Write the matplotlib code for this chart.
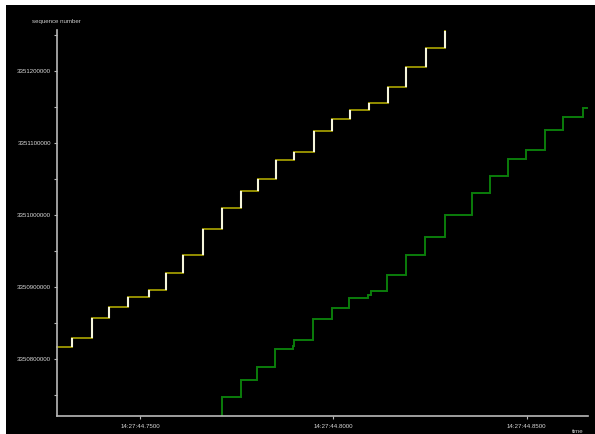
import matplotlib
matplotlib.use("Agg")
import matplotlib.pyplot as plt
from matplotlib.patches import Rectangle
from matplotlib.ticker import FixedLocator, FuncFormatter

# ---- data (time = seconds within 14:27:xx, seq = TCP sequence number) ----
yellow_rise_t = [44.73249, 44.73751, 44.74206, 44.74682, 44.75233, 44.75672,
                 44.76120, 44.76622, 44.77121, 44.77604, 44.78052, 44.78517,
                 44.78983, 44.79500, 44.79973, 44.80431, 44.80922, 44.81406,
                 44.81879, 44.82396, 44.82880]
yellow_levels = [3350816600, 3350829500, 3350857200, 3350872100, 3350886800,
                 3350896000, 3350920000, 3350945000, 3350980200, 3351009300,
                 3351033300, 3351050300, 3351076200, 3351087700, 3351116400,
                 3351132600, 3351145500, 3351155600, 3351177800, 3351204700,
                 3351231000, 3351255400]
yellow_start_t = 44.72861

green_rise_t = [44.77113, 44.77604, 44.78034, 44.78499, 44.78949, 44.78983,
                44.79466, 44.79965, 44.80413, 44.80904, 44.80982, 44.81396,
                44.81871, 44.82371, 44.82888, 44.83586, 44.84052, 44.84517,
                44.84975, 44.85482, 44.85940, 44.86465]
green_levels = [3350710000, 3350748200, 3350771700, 3350789300, 3350814700,
                3350818400, 3350826700, 3350856300, 3350870700, 3350884500,
                3350888700, 3350894200, 3350917300, 3350944100, 3350969900,
                3350999600, 3351030500, 3351054500, 3351078000, 3351090100,
                3351118200, 3351135800, 3351147900]
green_start_t = 44.77000
green_end_t = 44.86568

x_ticks = [44.75, 44.80, 44.85]
y_ticks = [3350800000, 3350900000, 3351000000, 3351100000, 3351200000]
y_minor = [3350750000, 3350850000, 3350950000, 3351050000, 3351150000, 3351250000]

x_label = "time"
y_label = "sequence number"


def step_xy(start_t, rise_t, levels, end_t=None):
    xs, ys = [start_t], [levels[0]]
    for t, lo, hi in zip(rise_t, levels[:-1], levels[1:]):
        xs += [t, t]
        ys += [lo, hi]
    if end_t is not None:
        xs.append(end_t)
        ys.append(levels[-1])
    return xs, ys


W, H = 595, 434
fig = plt.figure(figsize=(W / 100, H / 100), dpi=100, facecolor="white")
fig.patches.append(Rectangle((6 / W, 0), 1 - 6 / W, 1 - 5 / H,
                             transform=fig.transFigure, facecolor="black",
                             edgecolor="none", zorder=-10))

ax = fig.add_axes([57.3 / W, 1 - 416.3 / H, (587.5 - 57.3) / W, (416.3 - 29.6) / H])
ax.set_facecolor("none")
ax.set_xlim(44.72861, 44.86572)
ax.set_ylim(3350721000, 3351257000)

axis_col = "#b8b8b8"
for s in ["top", "right"]:
    ax.spines[s].set_visible(False)
for s in ["left", "bottom"]:
    ax.spines[s].set_color(axis_col)
    ax.spines[s].set_linewidth(1.2)

# green line
gx, gy = step_xy(green_start_t, green_rise_t, green_levels, green_end_t)
ax.plot(gx, gy, color="#0b7d0b", lw=1.4, solid_joinstyle="miter", clip_on=True)

# yellow line
yx, yy = step_xy(yellow_start_t, yellow_rise_t, yellow_levels)
ax.plot(yx, yy, color="#948e00", lw=1.4, solid_joinstyle="miter", clip_on=False)

# white segment bars along each rise
for t, lo, hi in zip(yellow_rise_t, yellow_levels[:-1], yellow_levels[1:]):
    ax.plot([t, t], [lo, hi], color="#f6f6dc", lw=1.5, clip_on=False,
            solid_capstyle="butt")

ax.xaxis.set_major_locator(FixedLocator(x_ticks))
ax.xaxis.set_major_formatter(FuncFormatter(lambda v, p: "14:27:%07.4f" % v))
ax.yaxis.set_major_locator(FixedLocator(y_ticks))
ax.yaxis.set_minor_locator(FixedLocator(y_minor))
ax.yaxis.set_major_formatter(FuncFormatter(lambda v, p: "%d" % round(v)))

for lab in ax.get_xticklabels() + ax.get_yticklabels():
    lab.set_fontfamily("Liberation Sans")
ax.tick_params(axis="both", which="both", colors=axis_col, labelcolor="#d8d8d8",
               length=2.5, width=0.8, direction="out", pad=2)
ax.tick_params(axis="x", labelsize=4.4, pad=3)
ax.tick_params(axis="y", labelsize=4.4)

fig.text(56 / W, 1 - 21.5 / H, y_label, color="#d0d0d0", fontsize=4.4,
         family="Liberation Sans", ha="center", va="center")
fig.text(578 / W, 1 - 431.5 / H, x_label, color="#d0d0d0", fontsize=4.4,
         family="Liberation Sans", ha="center", va="center")

fig.savefig("out.png", dpi=100, facecolor="white")
